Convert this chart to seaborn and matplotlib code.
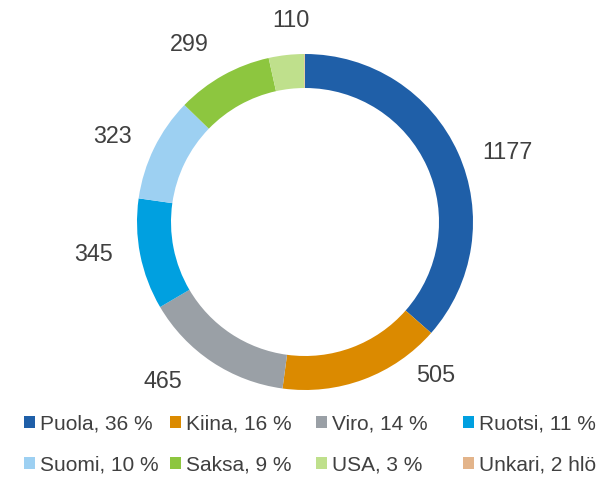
import matplotlib
matplotlib.use("Agg")
import matplotlib.pyplot as plt
import seaborn as sns
import numpy as np
from matplotlib.patches import Patch

# ---- data ----
countries = ["Puola", "Kiina", "Viro", "Ruotsi", "Suomi", "Saksa", "USA", "Unkari"]
values = [1177, 505, 465, 345, 323, 299, 110, 2]
legend_labels = ["Puola, 36 %", "Kiina, 16 %", "Viro, 14 %", "Ruotsi, 11 %",
                 "Suomi, 10 %", "Saksa, 9 %", "USA, 3 %", "Unkari, 2 hlö"]
value_labels = ["1177", "505", "465", "345", "323", "299", "110", ""]

# ---- styling ----
sns.set_theme(style="white")
plt.rcParams["font.family"] = ["Liberation Sans", "DejaVu Sans"]
colors = sns.color_palette(["#1F5FA8", "#DB8A00", "#9AA0A6", "#00A0E0",
                            "#9DD0F2", "#8DC63F", "#BFE08C", "#E3B48A"])
text_color = "#404040"

# label placement tweaks (degrees offset from wedge middle, radius factor)
label_nudge = [-4.8, 20.3, -8.4, -3.2, 1.6, 3.5, -2.4, 0]
label_dist = [1.28, 1.19, 1.26, 1.27, 1.26, 1.27, 1.22, 1.2]

W, H = 610, 478
fig = plt.figure(figsize=(W / 100, H / 100), dpi=100)
ax = fig.add_axes([0, 0, 1, 1])

cx, cy, R = 305, H - 222, 168
wedges, _ = ax.pie(values, colors=colors, startangle=90, counterclock=False,
                   center=(cx, cy), radius=R, frame=True,
                   wedgeprops=dict(width=34, linewidth=0))
ax.set_xlim(0, W)
ax.set_ylim(0, H)
ax.set_aspect("equal")
ax.axis("off")

for w, lab, nd, dist in zip(wedges, value_labels, label_nudge, label_dist):
    if not lab:
        continue
    ang = np.deg2rad((w.theta1 + w.theta2) / 2 + nd)
    ax.text(cx + dist * R * np.cos(ang), cy + dist * R * np.sin(ang), lab,
            ha="center", va="center_baseline", fontsize=16.8, color=text_color)

# legend: 2 rows x 4 columns
col_x = [24, 170, 316, 463]
row_y = [424, 465]
for i, (lab, col) in enumerate(zip(legend_labels, colors)):
    r, c = divmod(i, 4)
    leg = fig.legend(handles=[Patch(facecolor=col, edgecolor="none")], labels=[lab],
                     loc="center left",
                     bbox_to_anchor=(col_x[c] / W, 1 - row_y[r] / H),
                     frameon=False, borderpad=0, borderaxespad=0,
                     handlelength=0.53, handleheight=0.53, handletextpad=0.25,
                     prop={"size": 15})
    for t in leg.get_texts():
        t.set_color(text_color)

fig.savefig("out.png", dpi=100)
